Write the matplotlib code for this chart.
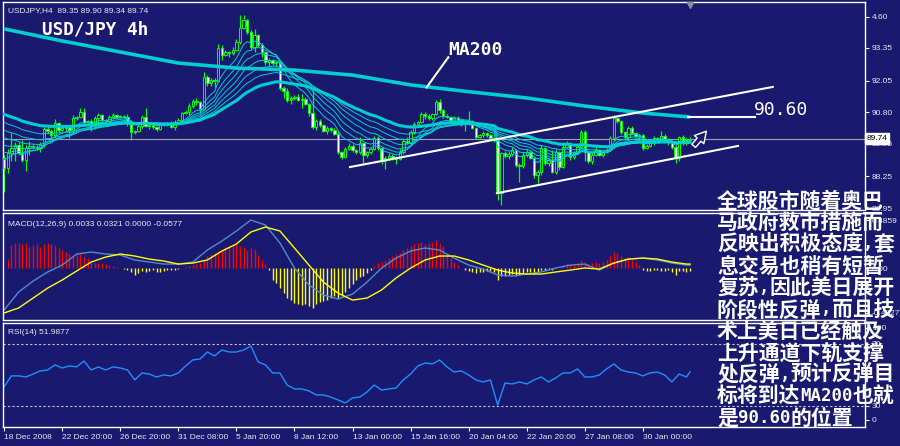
import numpy as np
import pandas as pd
import matplotlib
matplotlib.use("Agg")
import matplotlib.pyplot as plt
import matplotlib.transforms as mtransforms
from matplotlib.patches import Rectangle

plt.rcParams['font.family'] = ['Liberation Sans', 'DejaVu Sans']

BG = '#191970'
LIME = '#00ff00'
TURQ = '#00ced1'
TXT = '#e8e8f0'

# ---- price data (4h bars, 18 Dec 2008 .. 3 Feb 2009) ----
open0 = 88.97
close = [
    88.57, 89.17, 89.37, 89.49, 89.17, 88.89, 89.37, 89.45, 89.41, 89.37,
    89.49, 90.12, 90.04, 89.88, 90.36, 90.08, 90.16, 90.24, 90.08, 90.56,
    90.60, 90.80, 90.40, 90.44, 90.24, 90.56, 90.68, 90.48, 90.44, 90.60,
    90.68, 90.60, 90.64, 90.62, 90.36, 90.00, 90.04, 90.24, 90.60, 90.24,
    90.28, 90.20, 90.12, 90.28, 90.32, 90.36, 90.20, 90.40, 90.48, 90.76,
    90.80, 91.04, 91.24, 91.20, 90.92, 92.19, 91.95, 92.07, 92.03, 93.35,
    93.07, 93.19, 93.15, 93.27, 93.59, 94.15, 94.47, 93.99, 93.39, 93.87,
    93.47, 93.19, 92.79, 92.87, 92.75, 92.79, 91.76, 91.64, 91.28, 91.36,
    91.40, 91.28, 91.32, 91.12, 90.76, 90.20, 90.44, 90.28, 90.04, 90.16,
    90.08, 89.92, 89.21, 89.01, 89.33, 89.45, 89.29, 89.21, 89.56, 89.09,
    89.21, 89.33, 89.76, 89.37, 88.85, 88.97, 89.05, 88.97, 88.93, 89.21,
    89.64, 89.56, 90.00, 90.32, 90.40, 90.72, 90.64, 90.56, 90.72, 91.20,
    90.88, 90.64, 90.60, 90.44, 90.56, 90.48, 90.36, 90.40, 90.44, 90.16,
    89.80, 89.88, 89.96, 89.88, 89.76, 89.68, 87.57, 89.17, 89.05, 89.13,
    89.29, 88.69, 88.65, 89.09, 89.21, 88.97, 88.29, 88.41, 89.37, 88.77,
    88.89, 88.41, 89.21, 88.61, 89.41, 89.56, 89.01, 89.17, 89.41, 90.00,
    89.21, 88.85, 89.09, 89.29, 89.09, 89.21, 89.29, 89.76, 90.56, 90.44,
    90.00, 89.80, 90.16, 89.96, 89.84, 89.88, 89.37, 89.45, 89.56, 89.76,
    89.68, 89.84, 89.68, 89.60, 89.41, 88.97, 89.80, 89.56, 89.68, 89.74,
]
upper_wick = [
    0.10, 0.15, 0.60, 0.12, 0.10, 0.50, 0.10, 0.20, 0.06, 0.08,
    0.10, 0.08, 0.12, 0.10, 0.15, 0.05, 0.08, 0.10, 0.10, 0.12,
    0.05, 0.15, 0.15, 0.06, 0.10, 0.08, 0.10, 0.06, 0.05, 0.08,
    0.10, 0.06, 0.05, 0.05, 0.10, 0.12, 0.05, 0.08, 0.10, 0.35,
    0.05, 0.08, 0.05, 0.10, 0.06, 0.05, 0.10, 0.08, 0.10, 0.05,
    0.10, 0.12, 0.08, 0.10, 0.05, 0.20, 0.10, 0.08, 0.10, 0.15,
    0.10, 0.08, 0.05, 0.10, 0.10, 0.50, 0.20, 0.05, 0.06, 0.25,
    0.05, 0.06, 0.05, 0.10, 0.05, 0.06, 0.05, 0.08, 0.10, 0.08,
    0.06, 0.10, 0.20, 0.08, 0.05, 0.90, 0.10, 0.08, 0.06, 0.08,
    0.06, 0.10, 0.10, 0.05, 0.08, 0.10, 0.06, 0.05, 0.25, 0.05,
    0.05, 0.06, 0.10, 0.10, 0.05, 0.08, 0.10, 0.06, 0.08, 0.10,
    0.10, 0.15, 0.08, 0.10, 0.06, 0.10, 0.08, 0.10, 0.05, 0.08,
    0.10, 0.05, 0.08, 0.06, 0.10, 0.08, 0.05, 0.10, 0.40, 0.06,
    0.05, 0.06, 0.08, 0.05, 0.06, 0.05, 0.10, 0.05, 0.06, 0.10,
    0.10, 0.05, 0.08, 0.10, 0.12, 0.06, 0.05, 0.08, 0.10, 0.05,
    0.08, 0.40, 0.10, 0.05, 0.10, 0.08, 0.05, 0.06, 0.10, 0.08,
    0.08, 0.05, 0.06, 0.10, 0.05, 0.08, 0.06, 0.10, 0.12, 0.06,
    0.05, 0.06, 0.10, 0.08, 0.06, 0.05, 0.05, 0.06, 0.08, 0.10,
    0.06, 0.20, 0.10, 0.08, 0.05, 0.06, 0.05, 0.10, 0.08, 0.06,
]
lower_wick = [
    0.95, 0.20, 0.30, 0.50, 0.10, 0.08, 0.45, 0.30, 0.10, 0.08,
    0.15, 0.10, 0.08, 0.12, 0.10, 0.12, 0.05, 0.10, 0.30, 0.10,
    0.08, 0.05, 0.10, 0.06, 0.20, 0.10, 0.40, 0.08, 0.06, 0.05,
    0.05, 0.05, 0.05, 0.06, 0.10, 0.30, 0.08, 0.05, 0.08, 0.05,
    0.10, 0.06, 0.08, 0.05, 0.05, 0.06, 0.05, 0.10, 0.06, 0.08,
    0.05, 0.10, 0.06, 0.12, 0.15, 0.05, 0.10, 0.12, 0.25, 0.05,
    0.20, 0.05, 0.15, 0.08, 0.05, 0.10, 0.05, 0.10, 0.08, 0.20,
    0.10, 0.20, 0.10, 0.15, 0.08, 0.10, 0.10, 0.30, 0.08, 0.15,
    0.08, 0.06, 0.30, 0.05, 0.10, 0.08, 0.10, 0.06, 0.05, 0.10,
    0.08, 0.05, 0.10, 0.08, 0.05, 0.06, 0.10, 0.08, 0.10, 0.30,
    0.10, 0.08, 0.05, 0.10, 0.10, 0.30, 0.08, 0.06, 0.20, 0.05,
    0.10, 0.05, 0.06, 0.08, 0.10, 0.05, 0.10, 0.06, 0.08, 0.05,
    0.10, 0.08, 0.05, 0.10, 0.06, 0.08, 0.10, 0.30, 0.10, 0.05,
    0.08, 0.05, 0.06, 0.08, 0.05, 0.06, 0.28, 0.47, 0.08, 0.10,
    0.10, 0.08, 0.64, 0.06, 0.10, 0.05, 0.10, 0.32, 0.10, 0.06,
    0.10, 0.05, 0.08, 0.10, 0.05, 0.06, 0.10, 0.08, 0.06, 0.05,
    0.36, 0.08, 0.10, 0.06, 0.05, 0.10, 0.06, 0.05, 0.10, 0.08,
    0.08, 0.10, 0.06, 0.05, 0.08, 0.06, 0.10, 0.05, 0.06, 0.08,
    0.05, 0.08, 0.06, 0.10, 0.08, 0.20, 0.10, 0.06, 0.08, 0.05,
]

# moving averages: ribbon EMAs (period, value at first bar) + MA200
ribbon_periods = [8, 12, 16, 21, 27, 35]
ribbon_seeds = [89.00, 89.30, 89.60, 89.90, 90.20, 90.50]
slow_period, slow_seed = 50, 90.80
ma200_bars = [0, 16, 32, 48, 64, 80, 96, 112, 128, 144, 160, 176, 189]
ma200_vals = [94.11, 93.63, 93.19, 92.75, 92.55, 92.47, 92.27, 91.88, 91.61, 91.36, 91.04, 90.76, 90.60]

# MACD panel
macd_bars = list(range(0, 189, 4)) + [189]
macd_main = [-0.371, -0.212, -0.115, -0.035, 0.026, 0.124, 0.141, 0.124, 0.115, 0.071,
             0.053, 0.035, 0.035, 0.053, 0.159, 0.238, 0.327, 0.424, 0.380, 0.221,
             0.0, -0.150, -0.238, -0.274, -0.230, -0.124, 0.0, 0.088, 0.150, 0.177,
             0.159, 0.088, 0.026, -0.009, -0.062, -0.071, -0.053, -0.035, 0.0, 0.026,
             0.035, -0.018, 0.044, 0.079, 0.088, 0.071, 0.044, 0.026, 0.026]
macd_signal = [-0.397, -0.353, -0.265, -0.177, -0.106, -0.026, 0.053, 0.097, 0.124, 0.106,
               0.079, 0.062, 0.035, 0.044, 0.071, 0.150, 0.212, 0.318, 0.362, 0.327,
               0.177, 0.026, -0.124, -0.221, -0.283, -0.265, -0.194, -0.088, 0.0, 0.071,
               0.106, 0.106, 0.071, 0.026, -0.018, -0.044, -0.053, -0.053, -0.035, -0.018,
               0.0, -0.009, 0.044, 0.079, 0.088, 0.079, 0.053, 0.035, 0.035]
macd_hist = [
    0.0, 0.07, 0.20, 0.22, 0.22, 0.21, 0.22, 0.19, 0.20, 0.21,
    0.19, 0.21, 0.22, 0.21, 0.20, 0.18, 0.16, 0.14, 0.12, 0.11,
    0.12, 0.13, 0.10, 0.09, 0.04, 0.04, 0.04, 0.04, 0.035, 0.026,
    0.018, 0.009, 0.0, -0.009, -0.018, -0.035, -0.062, -0.044, -0.026, -0.035,
    -0.026, -0.018, -0.035, -0.035, -0.026, -0.018, -0.018, -0.018, -0.009, 0.0,
    0.009, 0.018, 0.026, 0.035, 0.044, 0.07, 0.106, 0.124, 0.132, 0.141,
    0.159, 0.185, 0.194, 0.203, 0.212, 0.194, 0.185, 0.159, 0.176, 0.168,
    0.115, 0.07, 0.035, -0.018, -0.106, -0.132, -0.176, -0.221, -0.265, -0.282,
    -0.309, -0.318, -0.327, -0.318, -0.335, -0.353, -0.318, -0.30, -0.291, -0.282,
    -0.265, -0.247, -0.265, -0.247, -0.212, -0.176, -0.141, -0.106, -0.079, -0.07,
    -0.044, -0.018, 0.018, 0.044, 0.053, 0.07, 0.088, 0.106, 0.124, 0.132,
    0.159, 0.176, 0.194, 0.212, 0.221, 0.229, 0.212, 0.221, 0.229, 0.247,
    0.221, 0.194, 0.132, 0.088, 0.053, 0.026, 0.0, -0.018, -0.026, -0.035,
    -0.044, -0.035, -0.035, -0.026, -0.026, -0.035, -0.106, -0.07, -0.07, -0.062,
    -0.053, -0.07, -0.062, -0.044, -0.035, -0.035, -0.053, -0.044, -0.018, -0.018,
    -0.009, -0.018, 0.009, 0.0, 0.026, 0.044, 0.026, 0.026, 0.044, 0.07,
    0.053, 0.035, 0.044, 0.053, 0.044, 0.053, 0.07, 0.106, 0.141, 0.132,
    0.106, 0.088, 0.097, 0.07, 0.053, 0.026, -0.018, -0.026, -0.026, -0.018,
    -0.018, -0.026, -0.026, -0.018, -0.035, -0.062, -0.026, -0.026, -0.035, -0.026,
]

# RSI panel
rsi_bars = list(range(0, 190, 2)) + [189]
rsi_vals = [42.3, 49.4, 49.4, 48.7, 50.6, 52.6, 53.2, 56.5, 54.5, 55.8,
            55.2, 59.0, 53.2, 55.2, 53.2, 55.2, 54.5, 53.2, 46.8, 51.3,
            50.6, 48.7, 50.0, 49.4, 51.3, 55.8, 59.7, 60.3, 64.8, 62.3,
            66.1, 64.8, 64.8, 66.1, 68.7, 58.4, 56.5, 51.3, 51.3, 43.5,
            41.0, 41.0, 39.7, 37.1, 37.1, 35.8, 33.9, 31.9, 35.2, 35.8,
            39.0, 43.5, 40.3, 41.0, 41.6, 46.8, 50.6, 55.8, 57.7, 57.1,
            59.7, 55.2, 51.9, 52.6, 50.0, 46.8, 45.5, 46.8, 30.6, 44.8,
            44.2, 45.5, 44.2, 46.8, 48.7, 45.5, 48.1, 51.3, 51.3, 53.9,
            48.7, 48.7, 50.0, 53.9, 57.1, 53.2, 51.9, 51.3, 49.4, 51.3,
            51.9, 50.0, 45.5, 50.6, 48.7, 52.0]

time_labels = ['18 Dec 2008', '22 Dec 20:00', '26 Dec 20:00', '31 Dec 08:00', '5 Jan 20:00',
               '8 Jan 12:00', '13 Jan 00:00', '15 Jan 16:00', '20 Jan 04:00', '22 Jan 20:00',
               '27 Jan 08:00', '30 Jan 00:00']
price_ticks = [94.60, 93.35, 92.05, 90.80, 89.55, 88.25, 86.95]
price_tick_labels = ['4.60', '93.35', '92.05', '90.80', '89.55', '88.25', '86.95']
last_price = 89.74

# hand-drawn annotations (bar index, price)
channel_upper = ([95.3, 211.8], [88.61, 91.80])
channel_lower = ([135.8, 202.2], [87.57, 89.45])
ma_pointer = ([116.4, 122.4], [91.78, 92.98])
target_line = ([188.4, 206.9], [90.60, 90.60])

comment_lines = ['全球股市随着奥巴', '马政府救市措施而', '反映出积极态度,套', '息交易也稍有短暂',
                 '复苏,因此美日展开', '阶段性反弹,而且技', '术上美日已经触及', '上升通道下轨支撑',
                 '处反弹,预计反弹目', '标将到达MA200也就', '是90.60的位置']

# ---- figure ----
fig = plt.figure(figsize=(9, 4.46), dpi=100, facecolor=BG)
ax_main = fig.add_axes([3/900, 1-210/446, 862/900, 208/446])
ax_macd = fig.add_axes([3/900, 1-320/446, 862/900, 107/446])
ax_rsi = fig.add_axes([3/900, 1-427/446, 862/900, 104/446])

for ax in (ax_main, ax_macd, ax_rsi):
    ax.set_facecolor(BG)
    ax.set_xlim(-0.3, 237.2)
    for s in ax.spines.values():
        s.set_color('white')
        s.set_linewidth(1.0)
    ax.tick_params(axis='both', colors='white', labelcolor=TXT, labelsize=6,
                   length=3, width=0.8, pad=2, left=False, labelleft=False,
                   right=True, labelright=True, bottom=False, labelbottom=False)

# candles
n = len(close)
x = np.arange(n)
opens = np.array([open0] + close[:-1])
closes = np.array(close)
highs = np.maximum(opens, closes) + np.array(upper_wick)
lows = np.minimum(opens, closes) - np.array(lower_wick)
ax_main.axhline(last_price, color='#a0a0a8', lw=0.8, zorder=1)
ax_main.vlines(x, lows, highs, color=LIME, lw=0.9, zorder=2)
for i in range(n):
    bottom = min(opens[i], closes[i])
    h = max(abs(closes[i] - opens[i]), 0.012)
    face = BG if closes[i] >= opens[i] else 'white'
    ax_main.add_patch(Rectangle((i - 0.33, bottom), 0.66, h, facecolor=face,
                                edgecolor=LIME, lw=0.7, zorder=3))

# moving averages
cl = pd.Series(close)
def seeded_ema(period, seed):
    s = pd.concat([pd.Series([seed]), cl], ignore_index=True)
    return s.ewm(span=period, adjust=False).mean().iloc[1:].to_numpy()

for p, sd in zip(ribbon_periods, ribbon_seeds):
    ax_main.plot(x, seeded_ema(p, sd), color=TURQ, lw=0.7, zorder=4)
ax_main.plot(x, seeded_ema(slow_period, slow_seed), color=TURQ, lw=2.2, zorder=4)
ax_main.plot(ma200_bars, ma200_vals, color=TURQ, lw=2.6, zorder=4, solid_capstyle='butt')

# annotations
for xs, ys in (channel_upper, channel_lower, ma_pointer, target_line):
    ax_main.plot(xs, ys, color='white', lw=1.5, zorder=5)
ax_main.text(122.4, 93.27, 'MA200', color='white', fontsize=13, fontweight='bold',
             family='DejaVu Sans Mono', ha='left', va='center', zorder=6)
ax_main.text(206.5, 90.90, '90.60', color='white', fontsize=13,
             family='DejaVu Sans Mono', ha='left', va='center', zorder=6)
ax_main.annotate('', xy=(194.0, 90.12), xytext=(189.5, 89.37),
                 arrowprops=dict(arrowstyle='simple,head_width=0.9,head_length=0.8,tail_width=0.35',
                                 fc=BG, ec='white', lw=1.0, mutation_scale=10), zorder=6)
ax_main.text(0.045, 0.87, 'USD/JPY 4h', transform=ax_main.transAxes, color='white',
             fontsize=12.7, fontweight='bold', family='DejaVu Sans Mono', ha='left', va='center')
ax_main.text(0.006, 0.958, 'USDJPY,H4  89.35 89.90 89.34 89.74', transform=ax_main.transAxes,
             color=TXT, fontsize=6, ha='left', va='center')
ax_main.plot([189], [95.08], marker='v', color='#8c8c96', ms=5, clip_on=False, zorder=6)

ax_main.set_ylim(86.90, 95.18)
ax_main.set_yticks(price_ticks)
ax_main.set_yticklabels(price_tick_labels)
trans = mtransforms.blended_transform_factory(ax_main.transAxes, ax_main.transData)
ax_main.text(1.0015, last_price, '89.74', transform=trans, color='black', fontsize=6,
             ha='left', va='center', clip_on=False, zorder=7,
             bbox=dict(boxstyle='square,pad=0.2', fc='white', ec='white'))

# MACD
hist = np.array(macd_hist)
hcol = np.where(hist >= 0, '#ff0000', '#ffff00')
ax_macd.vlines(x, 0, hist, colors=hcol, lw=1.0)
ax_macd.plot(macd_bars, macd_main, color='#4f8cc9', lw=1.0)
ax_macd.plot(macd_bars, macd_signal, color='#ffff00', lw=1.0)
ax_macd.set_ylim(-0.459, 0.486)
ax_macd.set_yticks([0.424, 0.0, -0.397])
ax_macd.set_yticklabels(['0.4859', '0.00', '-0.4927'])
ax_macd.text(0.006, 0.897, 'MACD(12,26,9) 0.0033 0.0321 0.0000 -0.0577',
             transform=ax_macd.transAxes, color=TXT, fontsize=6, ha='left', va='center')

# RSI
ax_rsi.axhline(70, color='#c8c8c8', lw=0.8, ls=(0, (2, 2)))
ax_rsi.axhline(30, color='#c8c8c8', lw=0.8, ls=(0, (2, 2)))
ax_rsi.plot(rsi_bars, rsi_vals, color='#1e90ff', lw=1.0)
ax_rsi.set_ylim(16.45, 83.5)
ax_rsi.set_yticks([80.3, 70, 30, 21])
ax_rsi.set_yticklabels(['100', '70', '30', '0'])
ax_rsi.text(0.006, 0.904, 'RSI(14) 51.9877', transform=ax_rsi.transAxes,
            color=TXT, fontsize=6, ha='left', va='center')
ax_rsi.tick_params(axis='x', bottom=True, labelbottom=True)
ax_rsi.set_xticks(range(0, 16 * len(time_labels), 16))
ax_rsi.set_xticklabels(time_labels)
for lab in ax_rsi.get_xticklabels():
    lab.set_horizontalalignment('left')

# commentary block: CJK runs full width, ASCII runs in a half-width mono face
renderer = fig.canvas.get_renderer()
cjk_font = dict(family=['Noto Sans CJK SC', 'DejaVu Sans'], fontsize=15, fontweight='bold')
latin_font = dict(family='DejaVu Sans Mono', fontsize=12.5, fontweight='bold')
for k, line in enumerate(comment_lines):
    yc = 201 + k * 21.7
    runs = []
    for ch in line:
        asc = ord(ch) < 128
        if runs and runs[-1][1] == asc:
            runs[-1][0] += ch
        else:
            runs.append([ch, asc])
    xpix = 717
    for txt, asc in runs:
        t = fig.text(xpix / 900, 1 - yc / 446, txt, color='white', ha='left', va='center',
                     zorder=10, **(latin_font if asc else cjk_font))
        xpix = t.get_window_extent(renderer).x1

fig.savefig('out.png', dpi=100, facecolor=BG)
